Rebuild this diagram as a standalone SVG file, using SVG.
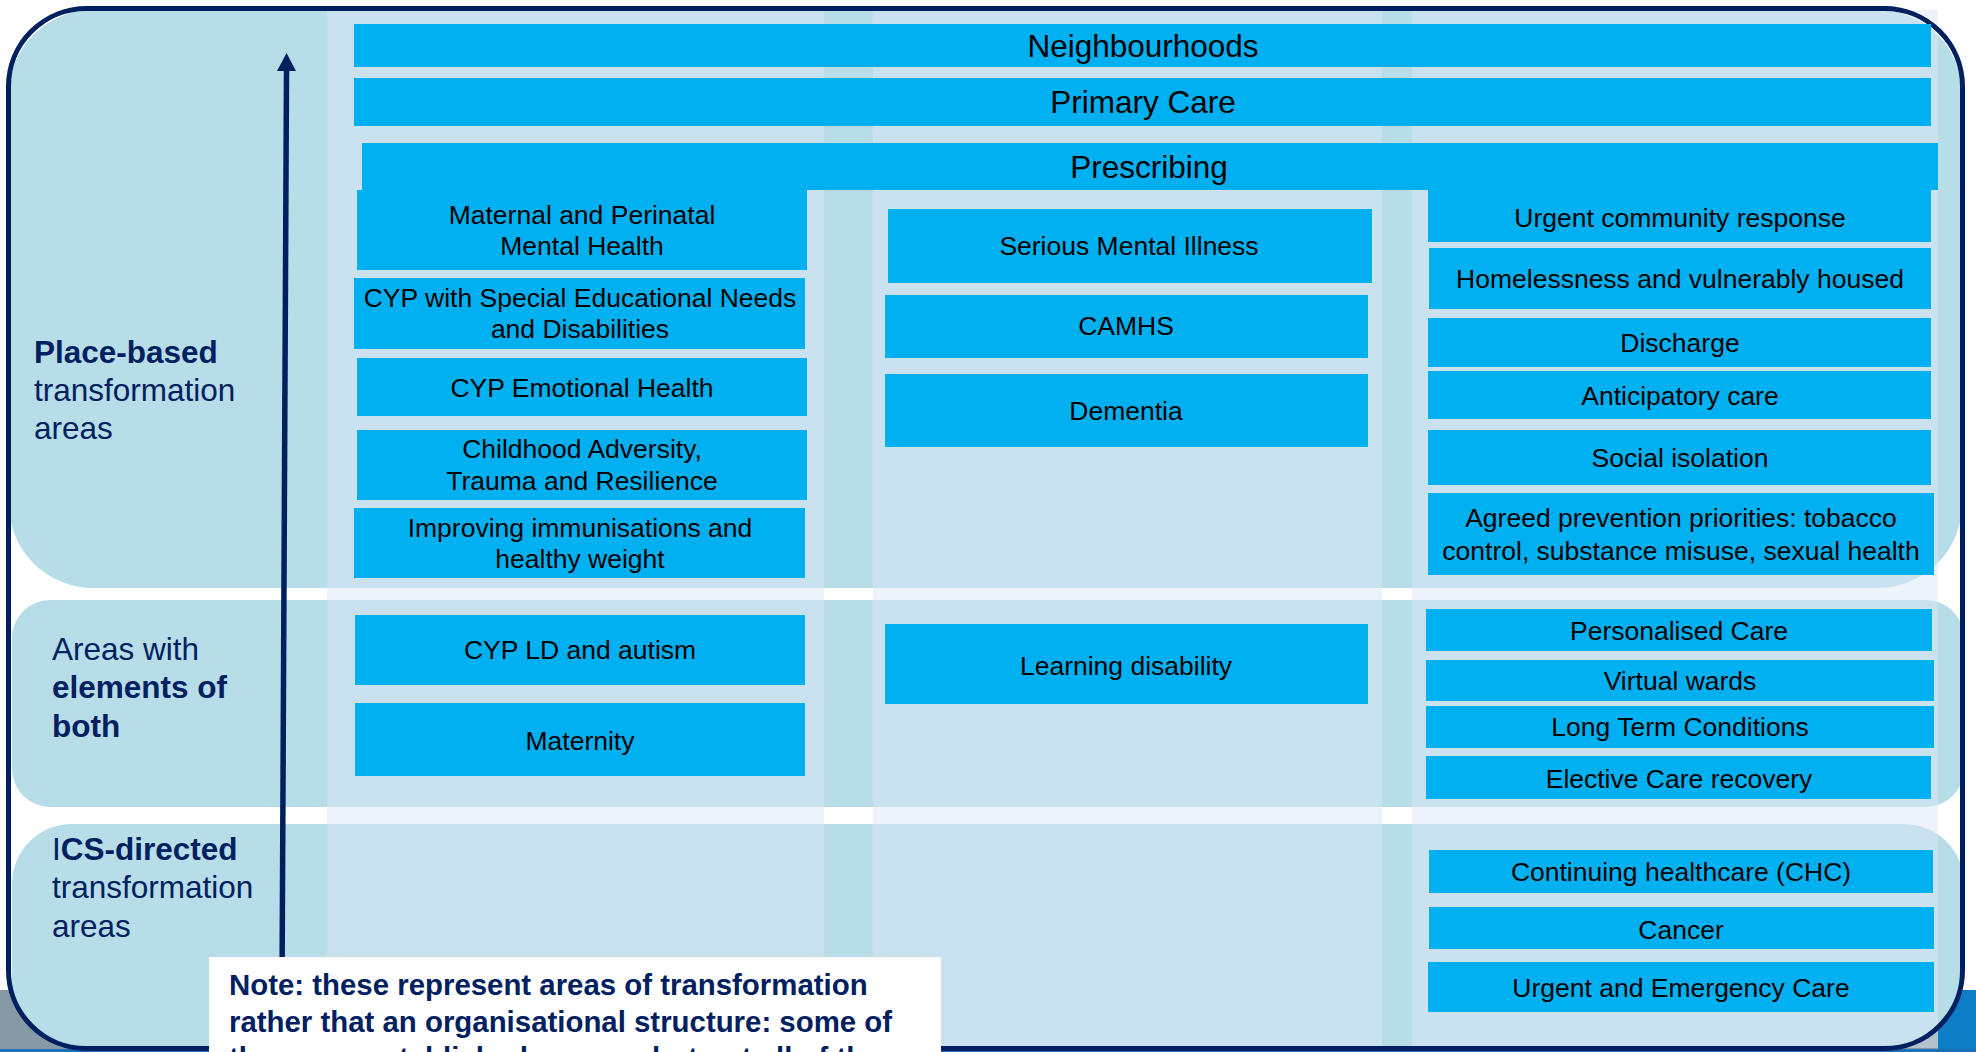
<svg xmlns="http://www.w3.org/2000/svg" width="1976" height="1052" viewBox="0 0 1976 1052">
  <defs>
    <style>
      .box { fill: #00b0f0; }
      .t { font-family: "Liberation Sans", Arial, sans-serif; fill: #000; text-anchor: middle; }
      .big { font-size: 31.5px; }
      .mid { font-size: 26.5px; }
      .lbl { font-family: "Liberation Sans", Arial, sans-serif; font-size: 31.5px; fill: #002060; }
      .b { font-weight: bold; }
      .band { fill: #b7dde8; }
      .col { fill: #dde7f5; fill-opacity: 0.5; }
      .note { font-family: "Liberation Sans", Arial, sans-serif; font-size: 29.4px; font-weight: bold; fill: #002060; }
    </style>
    <clipPath id="frameClip">
      <rect x="8.5" y="8.5" width="1954" height="1040" rx="78"/>
    </clipPath>
    <marker id="arrowHead" markerUnits="userSpaceOnUse" markerWidth="19" markerHeight="20" refX="0" refY="9.5" orient="auto">
      <path d="M0,0 L18,9.5 L0,19 z" fill="#002060"/>
    </marker>
  </defs>

  <!-- page background and footer strip -->
  <rect x="0" y="0" width="1976" height="1052" fill="#ffffff"/>
  <rect x="0" y="990" width="1938" height="62" fill="#8899a6"/>
  <rect x="1938" y="990" width="38" height="62" fill="#0c7cc5"/>
  <rect x="0" y="1049" width="1976" height="3" fill="#1a6fb5"/>

  <!-- row bands -->
  <g id="rows" clip-path="url(#frameClip)">
    <rect class="band" x="9" y="10" width="1953" height="578" rx="84"/>
    <rect class="band" x="12" y="600" width="1952" height="207" rx="38"/>
    <rect class="band" x="12" y="824" width="1952" height="226" rx="60"/>
  </g>

  <!-- column stripes -->
  <g id="columns">
    <rect class="col" x="327" y="10" width="497" height="1038"/>
    <rect class="col" x="873" y="10" width="509" height="1038"/>
    <rect class="col" x="1412" y="10" width="526" height="1038"/>
  </g>

  <!-- outer frame -->
  <rect id="frame" x="8.5" y="8.5" width="1954" height="1040" rx="78" fill="none" stroke="#002060" stroke-width="5"/>

  <!-- system-wide bars -->
  <g id="neighbourhoods">
    <rect class="box" x="354" y="24" width="1577" height="43"/>
    <text class="t big" x="1143" y="57">Neighbourhoods</text>
  </g>
  <g id="primary-care">
    <rect class="box" x="354" y="78" width="1577" height="48"/>
    <text class="t big" x="1143" y="113">Primary Care</text>
  </g>
  <g id="prescribing">
    <rect class="box" x="362" y="143" width="1576" height="47"/>
    <text class="t big" x="1149" y="178">Prescribing</text>
  </g>

  <!-- column 1 -->
  <g id="maternal-perinatal-mh">
    <rect class="box" x="357" y="190" width="450" height="80"/>
    <text class="t mid" x="582" y="224">Maternal and Perinatal</text>
    <text class="t mid" x="582" y="255">Mental Health</text>
  </g>
  <g id="cyp-send">
    <rect class="box" x="354" y="278" width="451" height="71"/>
    <text class="t mid" x="580" y="307">CYP with Special Educational Needs</text>
    <text class="t mid" x="580" y="338">and Disabilities</text>
  </g>
  <g id="cyp-emotional-health">
    <rect class="box" x="357" y="358" width="450" height="58"/>
    <text class="t mid" x="582" y="397">CYP Emotional Health</text>
  </g>
  <g id="childhood-adversity">
    <rect class="box" x="357" y="430" width="450" height="70"/>
    <text class="t mid" x="582" y="458">Childhood Adversity,</text>
    <text class="t mid" x="582" y="490">Trauma and Resilience</text>
  </g>
  <g id="immunisations-weight">
    <rect class="box" x="354" y="508" width="451" height="70"/>
    <text class="t mid" x="580" y="537">Improving immunisations and</text>
    <text class="t mid" x="580" y="568">healthy weight</text>
  </g>
  <g id="cyp-ld-autism">
    <rect class="box" x="355" y="615" width="450" height="70"/>
    <text class="t mid" x="580" y="659">CYP LD and autism</text>
  </g>
  <g id="maternity">
    <rect class="box" x="355" y="703" width="450" height="73"/>
    <text class="t mid" x="580" y="750">Maternity</text>
  </g>

  <!-- column 2 -->
  <g id="serious-mental-illness">
    <rect class="box" x="888" y="209" width="484" height="74"/>
    <text class="t mid" x="1129" y="255">Serious Mental Illness</text>
  </g>
  <g id="camhs">
    <rect class="box" x="885" y="295" width="483" height="63"/>
    <text class="t mid" x="1126" y="335">CAMHS</text>
  </g>
  <g id="dementia">
    <rect class="box" x="885" y="374" width="483" height="73"/>
    <text class="t mid" x="1126" y="420">Dementia</text>
  </g>
  <g id="learning-disability">
    <rect class="box" x="885" y="624" width="483" height="80"/>
    <text class="t mid" x="1126" y="675">Learning disability</text>
  </g>

  <!-- column 3 -->
  <g id="urgent-community-response">
    <rect class="box" x="1428" y="190" width="503" height="52"/>
    <text class="t mid" x="1680" y="227">Urgent community response</text>
  </g>
  <g id="homelessness">
    <rect class="box" x="1429" y="248" width="502" height="61"/>
    <text class="t mid" x="1680" y="288">Homelessness and vulnerably housed</text>
  </g>
  <g id="discharge">
    <rect class="box" x="1428" y="318" width="503" height="49"/>
    <text class="t mid" x="1680" y="352">Discharge</text>
  </g>
  <g id="anticipatory-care">
    <rect class="box" x="1428" y="371" width="503" height="48"/>
    <text class="t mid" x="1680" y="405">Anticipatory care</text>
  </g>
  <g id="social-isolation">
    <rect class="box" x="1428" y="430" width="503" height="55"/>
    <text class="t mid" x="1680" y="467">Social isolation</text>
  </g>
  <g id="prevention-priorities">
    <rect class="box" x="1428" y="493" width="506" height="82"/>
    <text class="t mid" x="1681" y="527">Agreed prevention priorities: tobacco</text>
    <text class="t mid" x="1681" y="560">control, substance misuse, sexual health</text>
  </g>
  <g id="personalised-care">
    <rect class="box" x="1426" y="609" width="506" height="42"/>
    <text class="t mid" x="1679" y="640">Personalised Care</text>
  </g>
  <g id="virtual-wards">
    <rect class="box" x="1426" y="660" width="508" height="41"/>
    <text class="t mid" x="1680" y="690">Virtual wards</text>
  </g>
  <g id="long-term-conditions">
    <rect class="box" x="1426" y="706" width="508" height="42"/>
    <text class="t mid" x="1680" y="736">Long Term Conditions</text>
  </g>
  <g id="elective-care">
    <rect class="box" x="1426" y="756" width="505" height="43"/>
    <text class="t mid" x="1679" y="788">Elective Care recovery</text>
  </g>
  <g id="continuing-healthcare">
    <rect class="box" x="1429" y="850" width="504" height="43"/>
    <text class="t mid" x="1681" y="881">Continuing healthcare (CHC)</text>
  </g>
  <g id="cancer">
    <rect class="box" x="1429" y="907" width="505" height="42"/>
    <text class="t mid" x="1681" y="939">Cancer</text>
  </g>
  <g id="urgent-emergency-care">
    <rect class="box" x="1428" y="962" width="506" height="50"/>
    <text class="t mid" x="1681" y="997">Urgent and Emergency Care</text>
  </g>

  <!-- row labels -->
  <g id="label-place-based">
    <text class="lbl b" x="34" y="363">Place-based</text>
    <text class="lbl" x="34" y="401">transformation</text>
    <text class="lbl" x="34" y="439">areas</text>
  </g>
  <g id="label-both">
    <text class="lbl" x="52" y="660">Areas with</text>
    <text class="lbl b" x="52" y="698">elements of</text>
    <text class="lbl b" x="52" y="737">both</text>
  </g>
  <g id="label-ics-directed">
    <text class="lbl" x="52" y="860">I<tspan class="b">CS-directed</tspan></text>
    <text class="lbl" x="52" y="898">transformation</text>
    <text class="lbl" x="52" y="937">areas</text>
  </g>

  <!-- upward arrow -->
  <g id="connectors">
    <line x1="282" y1="990" x2="286.5" y2="71" stroke="#002060" stroke-width="5.5" marker-end="url(#arrowHead)"/>
  </g>

  <!-- note panel -->
  <g id="note">
    <rect x="209" y="957" width="732" height="95" fill="#ffffff"/>
    <text class="note" x="229" y="995">Note: these represent areas of transformation</text>
    <text class="note" x="229" y="1031.5">rather that an organisational structure: some of</text>
    <text class="note" x="229" y="1068">these are established groups, but not all of them</text>
  </g>
</svg>
